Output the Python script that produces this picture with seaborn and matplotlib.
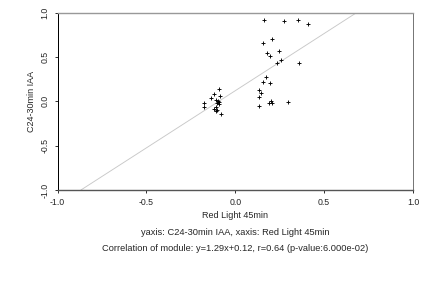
import matplotlib
matplotlib.use("Agg")
import matplotlib.pyplot as plt
import seaborn as sns
import pandas as pd

# Red Light 45min (x) and C24-30min IAA (y) values
x_vals = [-0.091, -0.120, -0.086, -0.138, -0.110, -0.099, -0.091, -0.104, -0.090,
          -0.174, -0.178, -0.110, -0.118, -0.104, -0.110, -0.080,
          0.162, 0.276, 0.355, 0.408, 0.158, 0.208, 0.177, 0.194, 0.248, 0.259,
          0.237, 0.357, 0.175, 0.158, 0.194, 0.132, 0.143, 0.135, 0.201, 0.192,
          0.207, 0.295, 0.132]
y_vals = [0.139, 0.083, 0.064, 0.034, 0.015, 0.004, -0.004, -0.015, -0.030,
          -0.022, -0.067, -0.060, -0.090, -0.098, -0.105, -0.143,
          0.918, 0.906, 0.918, 0.873, 0.662, 0.703, 0.542, 0.515, 0.571, 0.466,
          0.436, 0.429, 0.278, 0.218, 0.207, 0.128, 0.091, 0.052, 0.007, -0.022,
          -0.022, -0.011, -0.049]

slope = 1.29
intercept = 0.12
ticks = [-1.0, -0.5, 0.0, 0.5, 1.0]
tick_labels = ["-1.0", "-0.5", "0.0", "0.5", "1.0"]
x_label = "Red Light 45min"
y_label = "C24-30min IAA"
caption1 = "yaxis: C24-30min IAA, xaxis: Red Light 45min"
caption2 = "Correlation of module: y=1.29x+0.12, r=0.64 (p-value:6.000e-02)"

sns.set_style("white")
plt.rcParams['font.family'] = ['Liberation Sans', 'DejaVu Sans']

df = pd.DataFrame({"x": x_vals, "y": y_vals})

fig = plt.figure(figsize=(6, 4), dpi=72)
ax = fig.add_axes([57.5 / 432, 1 - 190 / 288, (413 - 57.5) / 432, (190 - 12.7) / 288])

ax.axline((0, intercept), slope=slope, color="#c8c8c8", lw=0.9, zorder=1)
sns.scatterplot(data=df, x="x", y="y", marker="+", color="black", s=24,
                linewidth=0.9, ax=ax, zorder=3)

ax.set_xlim(-1, 1)
ax.set_ylim(-1, 1)
ax.set_xticks(ticks)
ax.set_xticklabels(tick_labels)
ax.set_yticks(ticks)
ax.set_yticklabels(tick_labels, rotation=90, va="center")
ax.tick_params(axis="both", direction="out", length=3, width=0.8, color="black",
               labelsize=8.8, pad=5, bottom=True, left=True)
ax.set_xlabel(x_label, fontsize=9, labelpad=4)
ax.set_ylabel(y_label, fontsize=9, labelpad=4)

ax.spines["left"].set_color("black")
ax.spines["left"].set_linewidth(1.0)
ax.spines["bottom"].set_color("#555555")
ax.spines["bottom"].set_linewidth(1.4)
ax.spines["top"].set_color("#999999")
ax.spines["top"].set_linewidth(1.4)
ax.spines["right"].set_color("#777777")
ax.spines["right"].set_linewidth(1.0)

cx = (57.5 + 413) / 2 / 432
fig.text(cx, 1 - 232.7 / 288, caption1, ha="center", va="center", fontsize=9.3)
fig.text(cx, 1 - 248.3 / 288, caption2, ha="center", va="center", fontsize=9.3)

fig.savefig("out.png", dpi=72)
